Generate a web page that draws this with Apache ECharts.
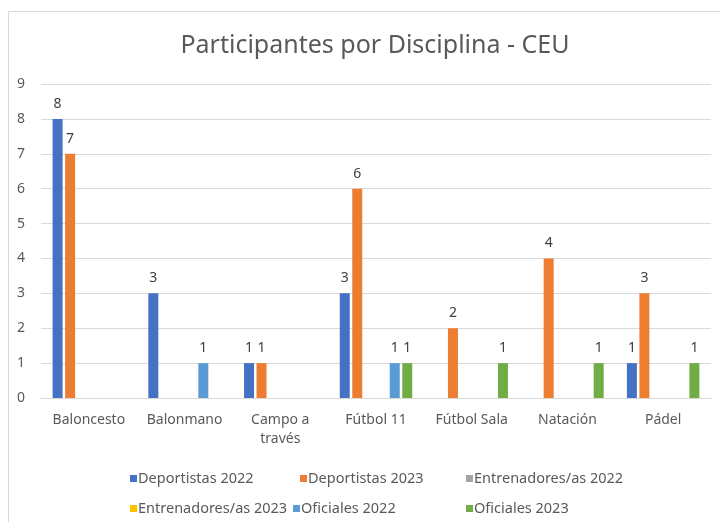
<!DOCTYPE html>
<html>
<head>
<meta charset="utf-8">
<script src="https://cdn.jsdelivr.net/npm/echarts@6/dist/echarts.min.js"></script>
<style>
  html, body { margin: 0; padding: 0; background: #ffffff; }
  #chart { width: 720px; height: 522px; }
</style>
</head>
<body>
<div id="chart"></div>
<script>
// Disciplines on the category axis
const categories = ['Baloncesto', 'Balonmano', 'Campo a través', 'Fútbol 11', 'Fútbol Sala', 'Natación', 'Pádel'];

// Participants per discipline and group (null = no participants)
const deportistas2022   = [8, 3, 1, 3, null, null, 1];
const deportistas2023   = [7, null, 1, 6, 2, 4, 3];
const entrenadores2022  = [null, null, null, null, null, null, null];
const entrenadores2023  = [null, null, null, null, null, null, null];
const oficiales2022     = [null, 1, null, 1, null, null, null];
const oficiales2023     = [null, null, null, 1, 1, 1, 1];

const seriesNames = ['Deportistas 2022', 'Deportistas 2023', 'Entrenadores/as 2022',
                     'Entrenadores/as 2023', 'Oficiales 2022', 'Oficiales 2023'];
const seriesData = [deportistas2022, deportistas2023, entrenadores2022,
                    entrenadores2023, oficiales2022, oficiales2023];
const colors = ['#4472c4', '#ed7d31', '#a5a5a5', '#ffc000', '#5b9bd5', '#70ad47'];

const yTicks = { min: 0, max: 9, interval: 1 };

const FONT = 'Noto Sans';
const TEXT = '#595959';

const chart = echarts.init(document.getElementById('chart'));

// Legend entries placed in two rows of three
const legendPos = [
  { left: 125, top: 466 }, { left: 295, top: 466 }, { left: 461, top: 466 },
  { left: 125, top: 496 }, { left: 288, top: 496 }, { left: 461, top: 496 }
];

chart.setOption({
  animation: false,
  color: colors,
  textStyle: { fontFamily: FONT },
  title: {
    text: 'Participantes por Disciplina - CEU',
    left: 370, top: 28, textAlign: 'center',
    textStyle: { fontFamily: FONT, fontSize: 25, fontWeight: 'normal', color: TEXT }
  },
  graphic: [{
    type: 'rect',
    shape: { x: 8.5, y: 11.5, width: 740, height: 540 },
    style: { fill: 'none', stroke: '#d9d9d9', lineWidth: 1 },
    silent: true, z: -1
  }],
  legend: seriesNames.map((name, i) => ({
    data: [name],
    left: legendPos[i].left, top: legendPos[i].top,
    itemWidth: 7, itemHeight: 7, itemGap: 0,
    icon: 'rect',
    textStyle: { fontFamily: FONT, fontSize: 14.5, color: TEXT, padding: [0, 0, 0, -4] }
  })),
  grid: { left: 41, right: 9, top: 84, bottom: 124, containLabel: false },
  xAxis: {
    type: 'category',
    data: categories,
    axisLine: { show: true, lineStyle: { color: '#d9d9d9' } },
    axisTick: { show: false },
    axisLabel: {
      fontFamily: FONT, fontSize: 14, color: TEXT, margin: 13, lineHeight: 19,
      interval: 0,
      formatter: v => v === 'Campo a través' ? 'Campo a\ntravés' : v
    }
  },
  yAxis: {
    type: 'value',
    min: yTicks.min, max: yTicks.max, interval: yTicks.interval,
    axisLine: { show: false },
    axisTick: { show: false },
    splitLine: { lineStyle: { color: '#d9d9d9', width: 1 } },
    axisLabel: { fontFamily: FONT, fontSize: 14, color: TEXT, margin: 16 }
  },
  series: seriesNames.map((name, i) => ({
    name,
    type: 'bar',
    data: seriesData[i],
    barWidth: 10,
    barGap: '25%',
    label: {
      show: true, position: 'top', distance: 8,
      fontFamily: FONT, fontSize: 14, color: '#404040'
    }
  }))
});
</script>
</body>
</html>
